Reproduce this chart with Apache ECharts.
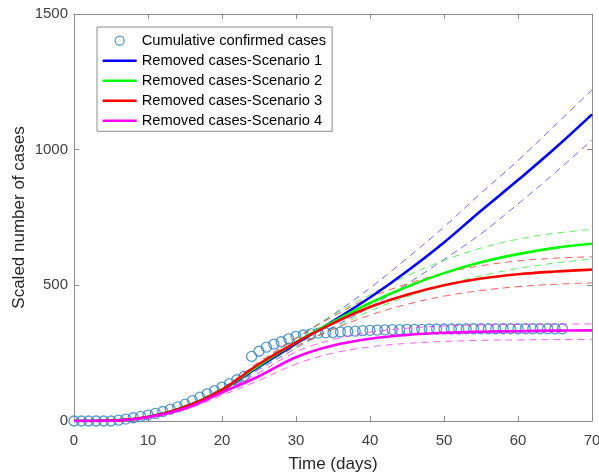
<!DOCTYPE html>
<html><head><meta charset="utf-8">
<script src="https://cdn.jsdelivr.net/npm/echarts@6/dist/echarts.min.js"></script>
<style>html,body{margin:0;padding:0;background:#fff}#c{width:599px;height:473px}</style>
</head><body><div id="c"></div>
<script>
const obsDays = Array.from({length: 67}, (_, i) => i);
const obsValues = [0,0,0,0,0,0,3,7,12,17,22,28,35,43,52,62,75,88,100,112,125,138,152,165,
  238,257,272,283,292,303,312,317,321,324,325,326,328,330,331,333,334,335,336,337,337,338,
  338,338,339,339,339,339,339,340,340,340,340,340,340,340,340,340,340,340,340,340,340];

const modelDays = [0,5,10,15,20,25,30,35,40,45,50,55,60,65,70];
const s1 = [0,2,15,52,115,200,285,368,455,552,658,775,888,1005,1130];
const s1Up = [0,2,17,56,122,212,305,392,490,600,715,840,960,1090,1220];
const s1Lo = [0,1,13,48,108,190,268,345,420,505,595,690,800,915,1035];
const s2 = [0,1,15,52,115,205,290,365,435,495,545,585,615,638,653];
const s2Up = [0,2,17,56,120,212,305,390,465,535,592,637,670,692,706];
const s2Lo = [0,1,13,48,110,195,275,340,405,458,500,535,562,582,597];
const s3 = [0,1,15,52,115,210,290,360,420,465,500,525,541,551,558];
const s3Up = [0,2,17,56,120,218,305,385,455,505,545,572,590,600,605];
const s3Lo = [0,1,13,48,110,200,275,338,390,430,460,481,495,504,509];
const s4 = [0,1,14,46,105,165,235,278,303,317,325,329,331,333,334];
const s4Up = [0,2,16,50,110,178,255,300,327,342,350,354,356,357,358];
const s4Lo = [0,1,12,42,95,150,210,250,273,286,293,297,299,300,301];

const xTicks = [0,10,20,30,40,50,60,70];
const yTicks = [0,500,1000,1500];

const names = ['Cumulative confirmed cases','Removed cases-Scenario 1','Removed cases-Scenario 2','Removed cases-Scenario 3','Removed cases-Scenario 4'];
const pair = (xs, ys) => xs.map((x, i) => [x, ys[i]]);

function solid(name, data, color) {
  return {name, type:'line', data: pair(modelDays, data), smooth:0.4, symbol:'none', showSymbol:false,
    lineStyle:{color, width:2.6}, itemStyle:{color}, z:5};
}
function dashed(data, color) {
  return {type:'line', data: pair(modelDays, data), smooth:0.4, symbol:'none', showSymbol:false,
    lineStyle:{color, width:1, type:[7,5], opacity:0.8}, z:4, silent:true};
}

const lineIcon = 'path://M0,0 L34,0 L34,2.6 L0,2.6 Z';
const circIcon = 'path://M0,0 L0,0 M12.5,7 A4.5,4.5 0 1 1 21.5,7 A4.5,4.5 0 1 1 12.5,7 Z M34,14 L34,14';

const axisCol = '#8c8c8c';
const font = 'Liberation Sans, Arial, sans-serif';
const chart = echarts.init(document.getElementById('c'));
chart.setOption({
  animation:false,
  textStyle:{fontFamily:font},
  grid:{left:74, right:7, top:14, bottom:52, containLabel:false, outerBoundsMode:'none'},
  legend:{
    data: [
      {name:names[0], icon:circIcon, itemStyle:{color:'rgba(255,255,255,0)', borderColor:'#2a7fc4', borderWidth:1.3}},
      {name:names[1], icon:lineIcon, itemStyle:{borderWidth:0}},
      {name:names[2], icon:lineIcon, itemStyle:{borderWidth:0}},
      {name:names[3], icon:lineIcon, itemStyle:{borderWidth:0}},
      {name:names[4], icon:lineIcon, itemStyle:{borderWidth:0}}
    ],
    orient:'vertical', left:97, top:27, itemWidth:34, itemHeight:14, itemGap:5,
    padding:[6,6,3,5], borderColor:'#8c8c8c', borderWidth:1, backgroundColor:'#fff',
    textStyle:{fontSize:14.7, color:'#000', fontFamily:font}
  },
  xAxis:[{
    type:'value', min:0, max:70, interval:10, position:'bottom',
    name:'Time (days)', nameLocation:'middle', nameGap:35, nameMoveOverlap:false,
    nameTextStyle:{fontSize:17, color:'#262626'},
    axisLine:{show:true, onZero:false, lineStyle:{color:axisCol}},
    axisTick:{inside:true, length:5, lineStyle:{color:axisCol}},
    axisLabel:{fontSize:15, color:'#404040', margin:12, formatter: v => String(v)},
    splitLine:{show:false}
  },{
    type:'value', min:0, max:70, interval:10, position:'top',
    axisLine:{show:true, onZero:false, lineStyle:{color:axisCol}},
    axisTick:{inside:true, length:5, lineStyle:{color:axisCol}},
    axisLabel:{show:false}, splitLine:{show:false}
  }],
  yAxis:[{
    type:'value', min:0, max:1500, interval:500, position:'left',
    name:'Scaled number of cases', nameLocation:'middle', nameGap:46, nameMoveOverlap:false,
    nameTextStyle:{fontSize:17, color:'#262626'},
    axisLine:{show:true, onZero:false, lineStyle:{color:axisCol}},
    axisTick:{inside:true, length:5, lineStyle:{color:axisCol}},
    axisLabel:{fontSize:15, color:'#404040', margin:6, formatter: v => String(v)},
    splitLine:{show:false}
  },{
    type:'value', min:0, max:1500, interval:500, position:'right',
    axisLine:{show:true, onZero:false, lineStyle:{color:axisCol}},
    axisTick:{inside:true, length:5, lineStyle:{color:axisCol}},
    axisLabel:{show:false}, splitLine:{show:false}
  }],
  series:[
    {name:names[0], type:'scatter', data: pair(obsDays, obsValues), symbol:'circle', symbolSize:10,
      itemStyle:{color:'rgba(255,255,255,0)', borderColor:'#2a7fc4', borderWidth:1.3}, z:3},
    dashed(s1Up,'#4848ff'), dashed(s1Lo,'#4848ff'),
    dashed(s2Up,'#33ee33'), dashed(s2Lo,'#33ee33'),
    dashed(s3Up,'#ff3333'), dashed(s3Lo,'#ff3333'),
    dashed(s4Up,'#ff33ff'), dashed(s4Lo,'#ff33ff'),
    solid(names[1], s1, '#0000ff'),
    solid(names[2], s2, '#00ff00'),
    solid(names[3], s3, '#ff0000'),
    solid(names[4], s4, '#ff00ff')
  ]
});
</script></body></html>
